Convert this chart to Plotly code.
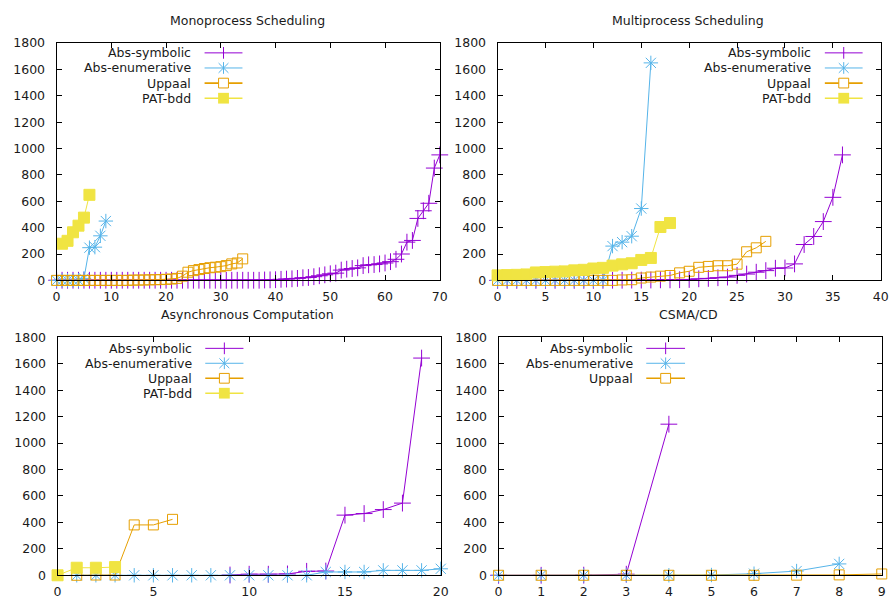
import plotly.graph_objects as go

W, H = 894, 605

# ---------------- data ----------------
series_names = ["Abs-symbolic", "Abs-enumerative", "Uppaal", "PAT-bdd"]
panel_titles = ["Monoprocess Scheduling", "Multiprocess Scheduling",
                "Asynchronous Computation", "CSMA/CD"]

# Monoprocess Scheduling
mono_sym_x = list(range(0, 71))
mono_sym_y = [1] * 38 + [3, 4, 5, 8, 10, 12, 15, 20, 22, 28, 35, 42, 50, 55, 78, 85, 90,
                         95, 112, 118, 120, 125, 132, 142, 160, 200, 290, 303, 470, 528,
                         585, 852, 952]
mono_enum_x = list(range(0, 10))
mono_enum_y = [0, 0, 0, 0, 0, 15, 248, 252, 338, 450]
mono_upp_x = list(range(0, 35))
mono_upp_y = [0] * 14 + [2, 2, 3, 4, 5, 6, 8, 10, 15, 32, 62, 74, 82, 90, 96, 100,
                         104, 112, 125, 132, 163]
mono_pat_x = list(range(1, 7))
mono_pat_y = [278, 300, 365, 415, 476, 649]

# Multiprocess Scheduling
multi_sym_x = list(range(0, 37))
multi_sym_y = [0] * 12 + [1, 1, 2, 2, 3, 4, 4, 5, 7, 12, 15, 20, 25, 38, 48, 62, 74,
                          92, 94, 125, 272, 333, 446, 630, 952]
multi_enum_x = list(range(0, 17))
multi_enum_y = [0] * 12 + [260, 290, 335, 545, 1650]
multi_upp_x = list(range(0, 29))
multi_upp_y = [0] * 13 + [3, 5, 18, 25, 32, 37, 57, 69, 99, 106, 111, 111, 123, 217,
                          247, 296]
multi_pat_x = list(range(0, 19))
multi_pat_y = [38, 40, 42, 45, 60, 63, 66, 68, 76, 80, 90, 95, 112, 122, 130, 155,
               170, 405, 435]

# Asynchronous Computation
async_sym_x = list(range(9, 20))
async_sym_y = [2, 8, 8, 10, 30, 32, 455, 467, 497, 546, 1643]
async_enum_x = list(range(1, 21))
async_enum_y = [0] * 13 + [25, 25, 25, 37, 37, 37, 49]
async_upp_x = list(range(1, 7))
async_upp_y = [0, 2, 2, 381, 381, 423]
async_pat_x = list(range(0, 4))
async_pat_y = [0, 57, 57, 62]

# CSMA/CD
csma_sym_x = list(range(0, 5))
csma_sym_y = [0, 0, 1, 8, 1143]
csma_enum_x = list(range(0, 9))
csma_enum_y = [0, 0, 0, 0, 0, 2, 12, 32, 86]
csma_upp_x = list(range(0, 10))
csma_upp_y = [0, 0, 0, 0, 0, 0, 0, 1, 3, 10]

y_tick_vals = list(range(0, 1801, 200))
x_ranges = [[0, 70], [0, 40], [0, 20], [0, 9]]
x_dticks = [10, 5, 5, 1]

# ---------------- style ----------------
COLORS = ["#9400D3", "#56B4E9", "#E69F00", "#F0E442"]
SYMBOLS = ["cross-thin-open", "asterisk-open", "square-open", "square"]
SIZES = [12, 12, 10, 11]
FONT = "DejaVu Sans"
TXT = "#1a1a1a"
FS = 12.5

# plot areas in pixels: (left, right, top, bottom)
areas = [(53.3, 441.7, 36.0, 279.3), (500.3, 888.7, 36.0, 279.3),
         (54.3, 442.7, 337.7, 581.7), (501.3, 889.7, 337.7, 581.7)]

panels = [
    [(mono_sym_x, mono_sym_y), (mono_enum_x, mono_enum_y), (mono_upp_x, mono_upp_y),
     (mono_pat_x, mono_pat_y)],
    [(multi_sym_x, multi_sym_y), (multi_enum_x, multi_enum_y), (multi_upp_x, multi_upp_y),
     (multi_pat_x, multi_pat_y)],
    [(async_sym_x, async_sym_y), (async_enum_x, async_enum_y), (async_upp_x, async_upp_y),
     (async_pat_x, async_pat_y)],
    [(csma_sym_x, csma_sym_y), (csma_enum_x, csma_enum_y), (csma_upp_x, csma_upp_y)],
]

fig = go.Figure()
for p, series in enumerate(panels):
    sfx = "" if p == 0 else str(p + 1)
    for s, (xs, ys) in enumerate(series):
        fig.add_trace(go.Scatter(
            x=xs, y=ys, mode="lines+markers", name=series_names[s],
            xaxis="x" + sfx, yaxis="y" + sfx, showlegend=False, cliponaxis=False,
            line=dict(color=COLORS[s], width=1),
            marker=dict(symbol=SYMBOLS[s], size=SIZES[s], color=COLORS[s],
                        line=dict(color=COLORS[s], width=1)),
        ))

layout = dict(width=W, height=H, margin=dict(l=0, r=0, t=0, b=0),
              paper_bgcolor="white", plot_bgcolor="white", showlegend=False,
              font=dict(family=FONT, size=FS, color=TXT))
axis_common = dict(showline=True, linecolor="black", linewidth=1, mirror="ticks",
                   ticks="inside", ticklen=5, tickcolor="black", tickwidth=1,
                   showgrid=False, zeroline=False,
                   tickfont=dict(family=FONT, size=FS, color=TXT))
for p, (l, r, t, b) in enumerate(areas):
    sfx = "" if p == 0 else str(p + 1)
    layout["xaxis" + sfx] = dict(axis_common, domain=[l / W, r / W], range=x_ranges[p],
                                 tick0=0, dtick=x_dticks[p], anchor="y" + sfx,
                                 ticklabelstandoff=5)
    layout["yaxis" + sfx] = dict(axis_common, domain=[1 - b / H, 1 - t / H],
                                 range=[0, 1800], tickvals=y_tick_vals,
                                 anchor="x" + sfx, ticklabelstandoff=8)
fig.update_layout(**layout)

# titles
title_pos = [(246.5, 12.5), (693.0, 12.5), (247.0, 314.5), (694.0, 314.5)]
for p, (tx, ty) in enumerate(title_pos):
    fig.add_annotation(text=panel_titles[p], x=tx / W, y=1 - ty / H, xref="paper",
                       yref="paper", showarrow=False, xanchor="center", yanchor="middle",
                       font=dict(family=FONT, size=FS, color=TXT))

# gnuplot-style keys (text on left, sample on right)
keys = [
    (191.5, 203.3, 241.7, [46.0, 61.5, 77.0, 92.5], 4),
    (819.5, 832.0, 870.3, [46.0, 61.5, 77.0, 92.5], 4),
    (192.3, 204.0, 242.7, [349.0, 364.3, 379.7, 395.0], 4),
    (639.3, 651.0, 690.3, [349.0, 364.3, 379.7], 3),
]
shapes = []
def px(x):
    return x / W
def py(y):
    return 1 - y / H
for (tr, l0, l1, rows, n) in keys:
    for s in range(n):
        yy = rows[s]
        fig.add_annotation(text=series_names[s], x=px(tr), y=py(yy), xref="paper",
                           yref="paper", showarrow=False, xanchor="right",
                           yanchor="middle", font=dict(family=FONT, size=FS, color=TXT))
        c = COLORS[s]
        lw = 1 if s < 2 else 1.6
        shapes.append(dict(type="line", xref="paper", yref="paper", x0=px(l0), x1=px(l1),
                           y0=py(yy), y1=py(yy), line=dict(color=c, width=lw)))
        cx = (l0 + l1) / 2
        if s == 0:
            shapes.append(dict(type="line", xref="paper", yref="paper", x0=px(cx), x1=px(cx),
                               y0=py(yy - 6), y1=py(yy + 6), line=dict(color=c, width=1)))
        elif s == 1:
            shapes.append(dict(type="line", xref="paper", yref="paper", x0=px(cx), x1=px(cx),
                               y0=py(yy - 6), y1=py(yy + 6), line=dict(color=c, width=1)))
            for d in (1, -1):
                shapes.append(dict(type="line", xref="paper", yref="paper",
                                   x0=px(cx - 5), x1=px(cx + 5),
                                   y0=py(yy - 5 * d), y1=py(yy + 5 * d),
                                   line=dict(color=c, width=1)))
        elif s == 2:
            shapes.append(dict(type="rect", xref="paper", yref="paper",
                               x0=px(cx - 5), x1=px(cx + 5), y0=py(yy - 5), y1=py(yy + 5),
                               line=dict(color=c, width=1), fillcolor="white"))
        else:
            shapes.append(dict(type="rect", xref="paper", yref="paper",
                               x0=px(cx - 5.5), x1=px(cx + 5.5), y0=py(yy - 5.5),
                               y1=py(yy + 5.5), line=dict(color=c, width=0), fillcolor=c))
fig.update_layout(shapes=shapes)

fig.write_html("out.html", config={"displayModeBar": False},
               post_script="document.body.style.margin='0px';"
                           "document.documentElement.style.overflow='hidden';")
